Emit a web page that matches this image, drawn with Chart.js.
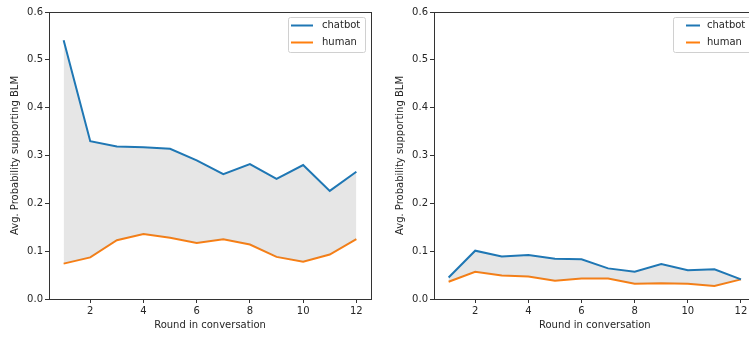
<!DOCTYPE html>
<html>
<head>
<meta charset="utf-8">
<script src="https://cdn.jsdelivr.net/npm/chart.js@4.4.1/dist/chart.umd.min.js"></script>
<style>
    html, body { margin: 0; padding: 0; background: #fff; }
    body { width: 749px; height: 339px; overflow: hidden; position: relative; }
    canvas { position: absolute; top: 0; }
</style>
</head>
<body>
<canvas id="leftChart" width="380" height="339" style="left:0"></canvas>
<canvas id="rightChart" width="390" height="339" style="left:380px"></canvas>
<script>
// Rounds in the conversation (x axis)
const rounds = [1, 2, 3, 4, 5, 6, 7, 8, 9, 10, 11, 12];
const xTicks = [2, 4, 6, 8, 10, 12];
const yTicks = [0, 0.1, 0.2, 0.3, 0.4, 0.5, 0.6];
const seriesNames = ['chatbot', 'human'];

// Left panel
const leftChatbot = [0.541, 0.330, 0.319, 0.317, 0.314, 0.290, 0.261, 0.282, 0.251, 0.280, 0.226, 0.266];
const leftHuman = [0.074, 0.087, 0.123, 0.136, 0.128, 0.117, 0.125, 0.114, 0.088, 0.078, 0.093, 0.125];

// Right panel
const rightChatbot = [0.045, 0.101, 0.089, 0.092, 0.084, 0.083, 0.064, 0.057, 0.073, 0.060, 0.062, 0.041];
const rightHuman = [0.036, 0.057, 0.049, 0.047, 0.038, 0.043, 0.043, 0.032, 0.033, 0.032, 0.027, 0.041];

const blue = '#1f77b4';
const orange = '#ff7f0e';
const textColor = '#262626';
const font = { family: 'DejaVu Sans', size: 10 };

// Draws the four spines of the plot frame
const framePlugin = {
    id: 'frame',
    afterDraw(chart) {
        const { ctx, chartArea: a } = chart;
        ctx.save();
        ctx.strokeStyle = '#333';
        ctx.lineWidth = 1;
        ctx.strokeRect(Math.round(a.left) + 0.5, Math.round(a.top) + 0.5,
            Math.round(a.right - a.left), Math.round(a.bottom - a.top));
        ctx.restore();
    }
};

// Matplotlib-style legend inside the axes
const boxLegendPlugin = {
    id: 'boxLegend',
    afterDraw(chart, args, opts) {
        const { ctx, chartArea: a } = chart;
        const left = a.right - opts.fromRight;
        const top = a.top + opts.fromTop;
        ctx.save();
        ctx.fillStyle = 'rgba(255,255,255,0.85)';
        ctx.strokeStyle = '#d0d0d0';
        ctx.lineWidth = 1;
        ctx.beginPath();
        ctx.roundRect(left + 0.5, top + 0.5, opts.width, opts.height, 2);
        ctx.fill();
        ctx.stroke();
        ctx.font = '10px "DejaVu Sans"';
        ctx.textBaseline = 'middle';
        chart.data.datasets.forEach((ds, i) => {
            const y = top + 8.5 + i * 17;
            ctx.strokeStyle = ds.borderColor;
            ctx.lineWidth = 2;
            ctx.beginPath();
            ctx.moveTo(left + opts.lineStart, y);
            ctx.lineTo(left + opts.lineStart + opts.lineLen, y);
            ctx.stroke();
            ctx.fillStyle = textColor;
            ctx.fillText(ds.label, left + opts.textAt, y);
        });
        ctx.restore();
    }
};

function makeChart(id, chatbot, human, cfg) {
    const ctx = document.getElementById(id).getContext('2d');
    return new Chart(ctx, {
        type: 'line',
        data: {
            datasets: [{
                label: seriesNames[0],
                data: rounds.map((r, i) => ({ x: r, y: chatbot[i] })),
                borderColor: blue,
                backgroundColor: 'rgba(128,128,128,0.2)',
                borderWidth: 2,
                pointRadius: 0,
                tension: 0,
                fill: '+1'
            }, {
                label: seriesNames[1],
                data: rounds.map((r, i) => ({ x: r, y: human[i] })),
                borderColor: orange,
                backgroundColor: orange,
                borderWidth: 2,
                pointRadius: 0,
                tension: 0,
                fill: false
            }]
        },
        options: {
            responsive: false,
            animation: false,
            layout: { padding: { top: 12, right: cfg.padRight, left: 0, bottom: 0 } },
            plugins: {
                legend: { display: false },
                tooltip: { enabled: false },
                boxLegend: cfg.legend
            },
            scales: {
                x: {
                    type: 'linear',
                    min: 0.45,
                    max: 12.55,
                    afterBuildTicks: (scale) => { scale.ticks = xTicks.map(v => ({ value: v })); },
                    afterFit: (scale) => { scale.height = 40; },
                    grid: { drawOnChartArea: false, drawTicks: true, tickLength: 4, color: '#333' },
                    border: { display: false },
                    ticks: { font: font, color: textColor, padding: 2, maxRotation: 0 },
                    title: { display: true, text: 'Round in conversation', font: font, color: textColor, padding: { top: 2, bottom: 8 } }
                },
                y: {
                    min: 0,
                    max: 0.6,
                    afterBuildTicks: (scale) => { scale.ticks = yTicks.map(v => ({ value: v })); },
                    afterFit: (scale) => { scale.width = cfg.yWidth; },
                    grid: { drawOnChartArea: false, drawTicks: true, tickLength: 4, color: '#333' },
                    border: { display: false },
                    ticks: { font: font, color: textColor, padding: 2, callback: (v) => v.toFixed(1) },
                    title: { display: true, text: 'Avg. Probability supporting BLM', font: font, color: textColor, padding: { top: cfg.titlePad, bottom: 2 } }
                }
            }
        },
        plugins: [framePlugin, boxLegendPlugin]
    });
}

makeChart('leftChart', leftChatbot, leftHuman, {
    padRight: 9, yWidth: 49, titlePad: 9,
    legend: { fromRight: 83, fromTop: 5, width: 77, height: 35, lineStart: 3, lineLen: 22, textAt: 34 }
});
makeChart('rightChart', rightChatbot, rightHuman, {
    padRight: 14.4, yWidth: 54, titlePad: 14,
    legend: { fromRight: 82.6, fromTop: 5, width: 80, height: 35, lineStart: 13, lineLen: 14, textAt: 34 }
});
</script>
</body>
</html>
